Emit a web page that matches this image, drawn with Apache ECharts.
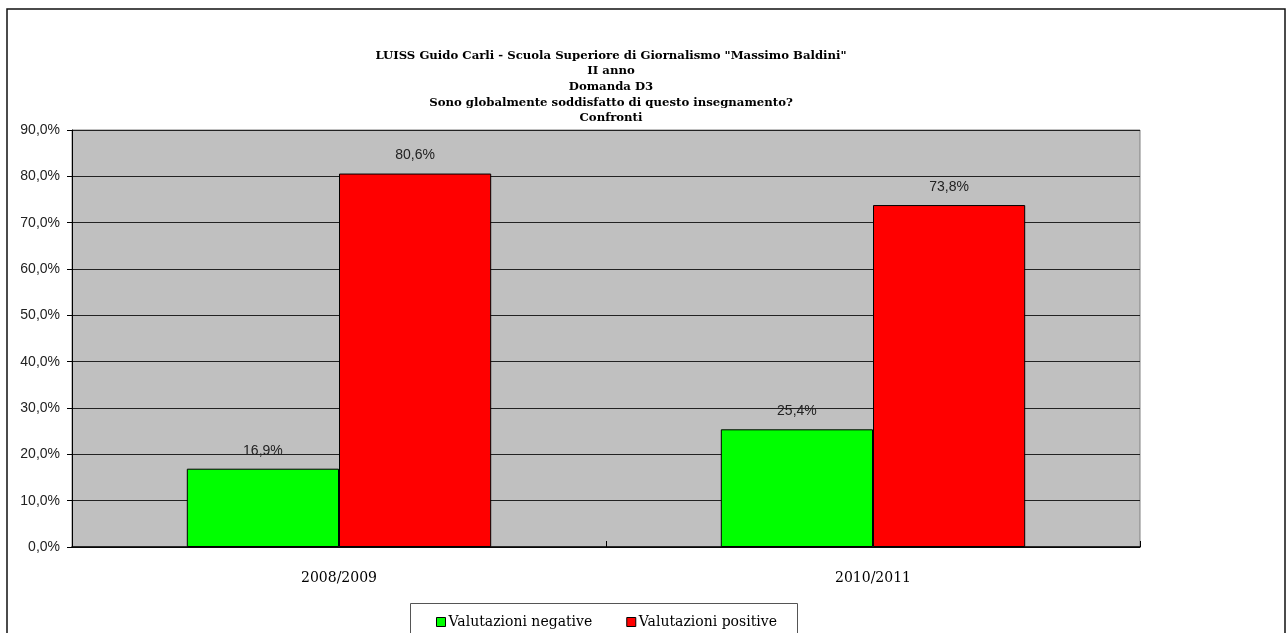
<!DOCTYPE html>
<html>
<head>
<meta charset="utf-8">
<script src="https://cdn.jsdelivr.net/npm/echarts@6/dist/echarts.min.js"></script>
<style>
  html, body { margin: 0; padding: 0; background: #fff; }
  #chart { width: 1287px; height: 633px; }
</style>
</head>
<body>
<div id="chart"></div>
<script>
  // dati
  const categories = ['2008/2009', '2010/2011'];
  const negative = [16.9, 25.4];
  const positive = [80.6, 73.8];
  const titleLines = [
    'LUISS Guido Carli - Scuola Superiore di Giornalismo "Massimo Baldini"',
    'II anno',
    'Domanda D3',
    'Sono globalmente soddisfatto di questo insegnamento?',
    'Confronti'
  ];

  const fmt = (v) => v.toFixed(1).replace('.', ',') + '%';
  const serif = 'DejaVu Serif';
  const sans = 'Liberation Sans';

  const chart = echarts.init(document.getElementById('chart'));

  const labelStyle = {
    show: true,
    position: 'top',
    distance: 11,
    fontFamily: sans,
    fontSize: 14,
    color: '#222',
    formatter: (p) => fmt(p.value)
  };

  const option = {
    animation: false,
    title: {
      text: titleLines.join('\n'),
      left: 606,
      textAlign: 'center',
      top: 43,
      textStyle: {
        fontFamily: serif,
        fontWeight: 'bold',
        fontSize: 11.7,
        lineHeight: 15.6,
        color: '#000'
      }
    },
    graphic: [
      {
        type: 'rect',
        shape: { x: 7, y: 9, width: 1278, height: 640 },
        style: { fill: 'none', stroke: '#111', lineWidth: 1.5 },
        silent: true
      },
      {
        type: 'rect',
        shape: { x: 410.5, y: 603.5, width: 387, height: 40 },
        style: { fill: '#fff', stroke: '#555', lineWidth: 1 },
        silent: true,
        z: 0
      }
    ],
    legend: {
      left: 431,
      top: 610,
      itemGap: 34,
      itemWidth: 9,
      itemHeight: 9,
      itemStyle: { borderColor: '#000', borderWidth: 1 },
      icon: 'rect',
      textStyle: { fontFamily: serif, fontSize: 14, color: '#000', padding: [0, 0, 0, -2] },
      data: ['Valutazioni negative', 'Valutazioni positive']
    },
    grid: {
      left: 72,
      right: 147,
      top: 130,
      bottom: 86,
      show: true,
      backgroundColor: '#c0c0c0',
      borderColor: '#808080',
      borderWidth: 1
    },
    xAxis: {
      type: 'category',
      data: categories,
      axisLine: { lineStyle: { color: '#000', width: 1.5 } },
      axisTick: { show: true, inside: true, length: 6, lineStyle: { color: '#000' } },
      axisLabel: { margin: 24, fontFamily: serif, fontSize: 14, color: '#000' },
      splitLine: { show: false }
    },
    yAxis: {
      type: 'value',
      min: 0,
      max: 90,
      interval: 10,
      axisLine: { show: true, lineStyle: { color: '#000', width: 1 } },
      axisTick: { show: true, length: 5, lineStyle: { color: '#000' } },
      axisLabel: {
        margin: 12,
        fontFamily: sans,
        fontSize: 14,
        color: '#222',
        formatter: (v) => fmt(v)
      },
      splitLine: { show: true, lineStyle: { color: '#222', width: 1 } }
    },
    series: [
      {
        name: 'Valutazioni negative',
        type: 'bar',
        data: negative,
        barGap: '0%',
        barCategoryGap: '43%',
        itemStyle: { color: '#00ff00', borderColor: '#000', borderWidth: 1 },
        label: labelStyle
      },
      {
        name: 'Valutazioni positive',
        type: 'bar',
        data: positive,
        itemStyle: { color: '#ff0000', borderColor: '#000', borderWidth: 1 },
        label: labelStyle
      }
    ]
  };

  chart.setOption(option);
  window.addEventListener('resize', chart.resize);
</script>
</body>
</html>
